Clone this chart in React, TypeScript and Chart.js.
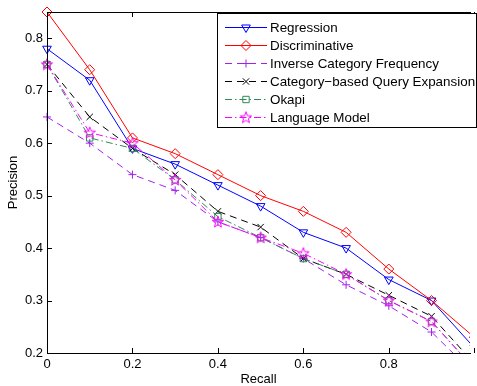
import React, { useEffect, useRef } from 'react';
import { Chart, registerables } from 'chart.js';
import { drawPoint } from 'chart.js/helpers';

Chart.register(...registerables);

// ---------- data ----------
const recall = [0, 0.1, 0.2, 0.3, 0.4, 0.5, 0.6, 0.7, 0.8, 0.9, 1.0];
const regression = [0.78, 0.72, 0.59, 0.56, 0.52, 0.48, 0.43, 0.40, 0.34, 0.30, 0.21];
const discriminative = [0.85, 0.74, 0.61, 0.58, 0.54, 0.50, 0.47, 0.43, 0.36, 0.30, 0.23];
const inverseCategoryFrequency = [0.65, 0.60, 0.54, 0.51, 0.45, 0.42, 0.38, 0.33, 0.29, 0.24, 0.16];
const categoryQueryExpansion = [0.75, 0.65, 0.59, 0.54, 0.47, 0.44, 0.38, 0.35, 0.31, 0.27, 0.18];
const okapi = [0.75, 0.61, 0.59, 0.53, 0.46, 0.42, 0.38, 0.35, 0.30, 0.26, 0.17];
const languageModel = [0.75, 0.62, 0.60, 0.53, 0.45, 0.42, 0.39, 0.35, 0.30, 0.26, 0.17];

const seriesNames = [
  'Regression',
  'Discriminative',
  'Inverse Category Frequency',
  'Category\u2212based Query Expansion',
  'Okapi',
  'Language Model',
];
const seriesValues = [
  regression,
  discriminative,
  inverseCategoryFrequency,
  categoryQueryExpansion,
  okapi,
  languageModel,
];
const xTicks = [0, 0.2, 0.4, 0.6, 0.8, 1.0];
const yTicks = [0.2, 0.3, 0.4, 0.5, 0.6, 0.7, 0.8];
const xTitle = 'Recall';
const yTitle = 'Precision';

// ---------- styles ----------
const FONT = '"Liberation Sans", Arial, Helvetica, sans-serif';
const colors = ['#0000ff', '#ff0000', '#a020f0', '#000000', '#2e8b57', '#ff00ff'];
const DASH = [7, 5];
const DASHDOT = [7, 3, 1.5, 3];
const dashes = [[], [], DASH, DASH, DASHDOT, DASHDOT];

function makeStar(color: string): HTMLCanvasElement {
  const c = document.createElement('canvas');
  c.width = 14;
  c.height = 14;
  const ctx = c.getContext('2d')!;
  const cx = 7, cy = 7.3, R = 6, r = 2.5;
  ctx.beginPath();
  for (let i = 0; i < 10; i++) {
    const a = -Math.PI / 2 + (i * Math.PI) / 5;
    const rad = i % 2 === 0 ? R : r;
    const px = cx + rad * Math.cos(a);
    const py = cy + rad * Math.sin(a);
    if (i === 0) ctx.moveTo(px, py);
    else ctx.lineTo(px, py);
  }
  ctx.closePath();
  ctx.strokeStyle = color;
  ctx.lineWidth = 1;
  ctx.stroke();
  return c;
}

export default function App() {
  const ref = useRef<HTMLCanvasElement | null>(null);

  useEffect(() => {
    if (!ref.current) return;
    const star = makeStar(colors[5]);
    const markers: any[] = [
      { pointStyle: 'triangle', radius: 5, rotation: 180 },
      { pointStyle: 'rectRot', radius: 5, rotation: 0 },
      { pointStyle: 'cross', radius: 4, rotation: 0 },
      { pointStyle: 'crossRot', radius: 4.5, rotation: 0 },
      { pointStyle: 'rect', radius: 4.5, rotation: 0 },
      { pointStyle: star, radius: 6, rotation: 0 },
    ];

    const datasets = seriesNames.map((name, i) => ({
      label: name,
      data: recall.map((r, j) => ({ x: r, y: seriesValues[i][j] })),
      borderColor: colors[i],
      backgroundColor: 'rgba(0,0,0,0)',
      borderWidth: 1,
      borderDash: dashes[i],
      pointStyle: markers[i].pointStyle,
      pointRadius: markers[i].radius,
      pointRotation: markers[i].rotation,
      pointBorderColor: colors[i],
      pointBackgroundColor: 'rgba(0,0,0,0)',
      pointBorderWidth: 1,
      tension: 0,
      order: seriesNames.length - i,
      clip: { left: 10, top: 10, right: 0, bottom: 0 },
    }));

    const frame = {
      id: 'frame',
      afterDraw(chart: any) {
        const { ctx, chartArea, scales } = chart;
        const { left, right, top, bottom } = chartArea;
        ctx.save();
        ctx.strokeStyle = '#000';
        ctx.lineWidth = 1;
        ctx.setLineDash([]);
        // box
        ctx.beginPath();
        ctx.moveTo(right + 1, top + 0.5);
        ctx.lineTo(left + 0.5, top + 0.5);
        ctx.lineTo(left + 0.5, bottom + 0.5);
        ctx.lineTo(right + 1, bottom + 0.5);
        ctx.stroke();
        // ticks inside
        ctx.beginPath();
        xTicks.forEach((v) => {
          const px = Math.round(scales.x.getPixelForValue(v)) + 0.5;
          ctx.moveTo(px, bottom);
          ctx.lineTo(px, bottom - 5);
          ctx.moveTo(px, top);
          ctx.lineTo(px, top + 5);
        });
        yTicks.forEach((v) => {
          const py = Math.round(scales.y.getPixelForValue(v)) + 0.5;
          ctx.moveTo(left, py);
          ctx.lineTo(left + 5, py);
        });
        ctx.stroke();

        // legend
        const lx = 217, ly = 13, lw = 259, lh = 114;
        ctx.fillStyle = '#fff';
        ctx.fillRect(lx, ly, lw, lh);
        ctx.strokeStyle = '#000';
        ctx.lineWidth = 1;
        ctx.strokeRect(lx + 0.5, ly + 0.5, lw, lh);
        ctx.font = `13.4px ${FONT}`;
        ctx.textBaseline = 'middle';
        ctx.textAlign = 'left';
        seriesNames.forEach((name, i) => {
          const y = 27 + i * 18;
          ctx.strokeStyle = colors[i];
          ctx.lineWidth = 1;
          ctx.setLineDash(dashes[i]);
          ctx.beginPath();
          ctx.moveTo(225, y + 0.5);
          ctx.lineTo(267, y + 0.5);
          ctx.stroke();
          ctx.setLineDash([]);
          ctx.fillStyle = 'rgba(0,0,0,0)';
          ctx.strokeStyle = colors[i];
          drawPoint(ctx, {
            pointStyle: markers[i].pointStyle,
            radius: markers[i].radius,
            rotation: markers[i].rotation,
            borderWidth: 1,
          } as any, 246, y + 0.5);
          ctx.fillStyle = '#000';
          ctx.fillText(name, 270, y + 1);
        });
        ctx.restore();
      },
    };

    const chart = new Chart(ref.current, {
      type: 'line',
      data: { datasets: datasets as any },
      plugins: [frame],
      options: {
        responsive: false,
        animation: false,
        devicePixelRatio: 1,
        layout: { padding: { top: 12, right: 0, left: 0, bottom: 0 } },
        plugins: {
          legend: { display: false },
          tooltip: { enabled: false },
        },
        events: [],
        scales: {
          x: {
            type: 'linear',
            min: 0,
            max: 0.99,
            afterBuildTicks: (s: any) => {
              s.ticks = xTicks.filter((v) => v <= 0.99).map((v) => ({ value: v }));
            },
            afterFit: (s: any) => {
              s.height = 33;
            },
            grid: { display: false, drawTicks: false },
            border: { display: false },
            ticks: {
              padding: 4,
              color: '#000',
              font: { family: FONT, size: 13 },
              maxRotation: 0,
              callback: (v: any) => (v === 0 ? '0' : Number(v).toFixed(1)),
            },
            title: {
              display: true,
              text: xTitle,
              color: '#000',
              font: { family: FONT, size: 13, lineHeight: 1 },
              padding: { top: 0, bottom: 0 },
            },
          },
          y: {
            type: 'linear',
            min: 0.2,
            max: 0.85,
            afterBuildTicks: (s: any) => {
              s.ticks = yTicks.map((v) => ({ value: v }));
            },
            afterFit: (s: any) => {
              s.width = 47;
            },
            grid: { display: false, drawTicks: false },
            border: { display: false },
            ticks: {
              padding: 4,
              color: '#000',
              font: { family: FONT, size: 13 },
              callback: (v: any) => Number(v).toFixed(1),
            },
            title: {
              display: true,
              text: yTitle,
              color: '#000',
              font: { family: FONT, size: 13, lineHeight: 1 },
              padding: { top: 6.5, bottom: 0 },
            },
          },
        },
      },
    });
    return () => chart.destroy();
  }, []);

  return (
    <div style={{ position: 'fixed', left: 0, top: 0, width: 477, height: 386, background: '#fff' }}>
      <canvas ref={ref} width={477} height={386} style={{ display: 'block' }} />
    </div>
  );
}
